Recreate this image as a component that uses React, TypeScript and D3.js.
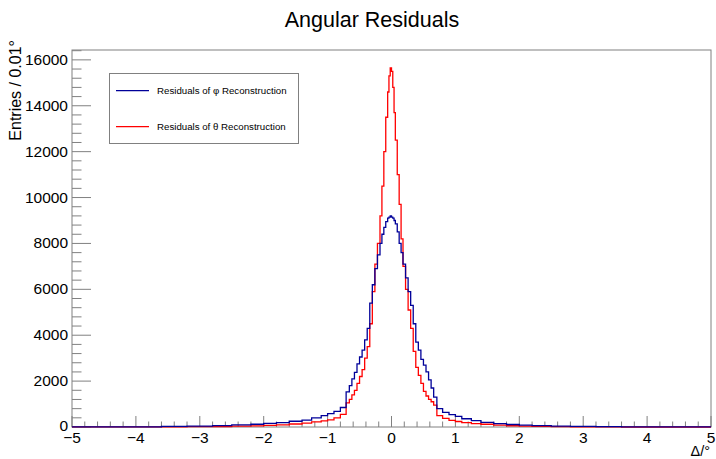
import React from 'react';
import * as d3 from 'd3';

// bin edges (deg) shared by both histograms, counts per interval
const binEdges = [
  -5.0, -3.6, -3.2, -2.8, -2.5, -2.2, -2.0, -1.8, -1.6, -1.4, -1.25, -1.1, -1.0, -0.9, -0.8,
  -0.71, -0.66, -0.62, -0.58, -0.54, -0.5, -0.46, -0.42, -0.38, -0.34, -0.3, -0.26, -0.22,
  -0.18, -0.15, -0.12, -0.09, -0.06, -0.04, -0.02, 0.0, 0.02, 0.04, 0.06, 0.09, 0.12, 0.15,
  0.18, 0.22, 0.26, 0.3, 0.34, 0.38, 0.42, 0.46, 0.5, 0.54, 0.58, 0.62, 0.66, 0.71, 0.8, 0.9,
  1.0, 1.1, 1.25, 1.4, 1.6, 1.8, 2.0, 2.2, 2.5, 2.8, 3.2, 3.6, 5.0,
];

const phiCounts = [
  5, 30, 40, 60, 90, 120, 160, 190, 250, 300,
  400, 500, 580, 680, 850, 1535, 1800, 2100, 2380, 2750,
  3050, 3350, 3800, 4300, 5400, 6200, 6900, 7500, 8000, 8400,
  8700, 8950, 9100, 9150, 9200, 9150, 9100, 9000, 8850, 8500,
  8000, 7600, 7100, 6500, 5900, 5300, 4500, 3700, 3350, 2950,
  2700, 2400, 2050, 1700, 1300, 800, 640, 540, 460, 360,
  280, 200, 150, 110, 80, 60, 40, 30, 20, 5,
];

const thetaCounts = [
  3, 10, 15, 20, 35, 50, 70, 95, 130, 170,
  220, 270, 310, 400, 550, 1050, 1200, 1400, 1600, 1900,
  2200, 2500, 3000, 3500, 4500, 5900, 7100, 8000, 9200, 10500,
  12000, 13500, 14600, 15300, 15650, 15500, 14800, 13700, 12500, 11000,
  9700, 8200, 7000, 6000, 5100, 4300, 3300, 2600, 2250, 1900,
  1550, 1350, 1200, 1100, 950, 500, 380, 290, 240, 190,
  150, 120, 80, 55, 40, 25, 15, 10, 5, 0,
];

const xTicks = [-5, -4, -3, -2, -1, 0, 1, 2, 3, 4, 5];
const yTicks = [0, 2000, 4000, 6000, 8000, 10000, 12000, 14000, 16000];

const W = 716;
const H = 459;
const font = '"Liberation Sans", Arial, Helvetica, sans-serif';
const axisColor = '#808080';
const phiColor = '#000099';
const thetaColor = '#ff0000';

const x = d3.scaleLinear().domain([-5, 5]).range([72, 711]);
const y = d3.scaleLinear().domain([0, 16430]).range([427, 50]);

const stepLine = d3
  .line<[number, number]>()
  .x(d => x(d[0]))
  .y(d => y(d[1]))
  .curve(d3.curveStepAfter);

const histPath = (counts: number[]) =>
  stepLine(binEdges.map((e, i) => [e, counts[Math.min(i, counts.length - 1)]] as [number, number])) || '';

const fmt = (v: number) => (v < 0 ? '\u2212' + Math.abs(v) : String(v));

export default function App() {
  const [x0, x1] = x.range();
  const [y0, y1] = y.range();
  const majX = 11;
  const majY = 19;
  const xMinor = d3.range(-50, 51, 2).map(v => v / 10).filter(v => !xTicks.includes(v));
  const yMinor = d3.range(0, 16401, 400).filter(v => !yTicks.includes(v));

  return (
    <svg width={W} height={H} style={{ position: 'absolute', left: 0, top: 0, background: '#fff' }}>
      <rect x={0} y={0} width={W} height={H} fill="#fff" />
      <text x={372} y={27} textAnchor="middle" fontFamily={font} fontSize={21.5} fill="#000">
        Angular Residuals
      </text>

      {/* frame */}
      <rect x={x0} y={y1} width={x1 - x0} height={y0 - y1} fill="none" stroke={axisColor} strokeWidth={1} />

      {/* x axis ticks */}
      {xTicks.map(t => (
        <g key={'xt' + t}>
          <line x1={x(t)} x2={x(t)} y1={y0} y2={y0 - majX} stroke={axisColor} />
          <text x={x(t)} y={443} textAnchor="middle" fontFamily={font} fontSize={15.5} fill="#000">
            {fmt(t)}
          </text>
        </g>
      ))}
      {xMinor.map(t => (
        <line key={'xm' + t} x1={x(t)} x2={x(t)} y1={y0} y2={y0 - majX / 2} stroke={axisColor} />
      ))}

      {/* y axis ticks */}
      {yTicks.map(t => (
        <g key={'yt' + t}>
          <line x1={x0} x2={x0 + majY} y1={y(t)} y2={y(t)} stroke={axisColor} />
          <text x={68} y={y(t) + (t === 0 ? 3.5 : 5)} textAnchor="end" fontFamily={font} fontSize={15.5} fill="#000">
            {t}
          </text>
        </g>
      ))}
      {yMinor.map(t => (
        <line key={'ym' + t} x1={x0} x2={x0 + majY / 2} y1={y(t)} y2={y(t)} stroke={axisColor} />
      ))}

      {/* axis titles */}
      <text
        transform="translate(21,40) rotate(-90)"
        textAnchor="end"
        fontFamily={font}
        fontSize={16}
        fill="#000"
      >
        Entries / 0.01°
      </text>
      <text x={710} y={456} textAnchor="end" fontFamily={font} fontSize={14.5} fill="#000">
        Δ/°
      </text>

      {/* histograms */}
      <path d={histPath(thetaCounts)} fill="none" stroke={thetaColor} strokeWidth={1.3} />
      <path d={histPath(phiCounts)} fill="none" stroke={phiColor} strokeWidth={1.3} />

      {/* legend */}
      <rect x={109.5} y={73.5} width={189} height={70} fill="#fff" stroke={axisColor} strokeWidth={1} />
      <line x1={116} x2={149} y1={90.7} y2={90.7} stroke={phiColor} strokeWidth={1.3} />
      <text x={157} y={94} fontFamily={font} fontSize={9.7} fill="#000">
        Residuals of φ Reconstruction
      </text>
      <line x1={116} x2={149} y1={126.7} y2={126.7} stroke={thetaColor} strokeWidth={1.3} />
      <text x={157} y={130} fontFamily={font} fontSize={9.7} fill="#000">
        Residuals of θ Reconstruction
      </text>
    </svg>
  );
}
